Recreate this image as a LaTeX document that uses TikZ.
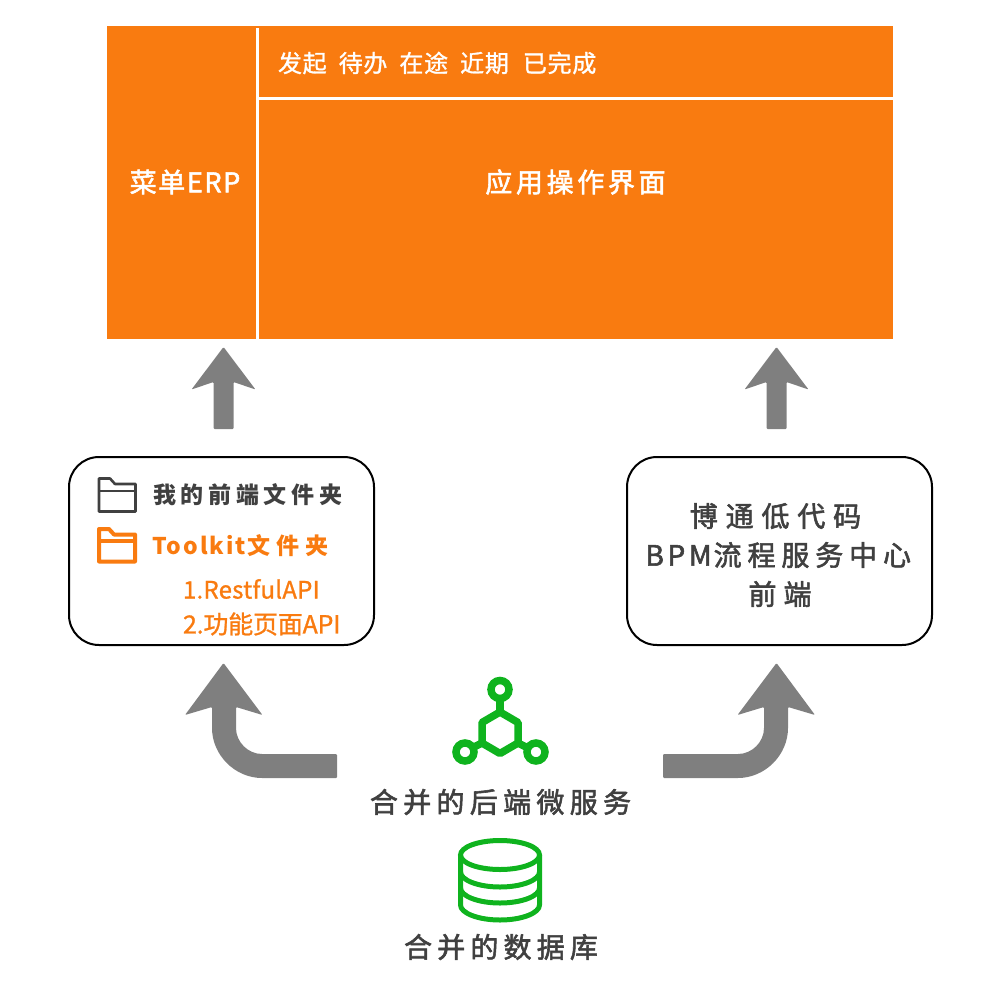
\documentclass[tikz,border=0pt]{standalone}
\usepackage{fontspec}
\setmainfont{Noto Sans CJK SC}
\newcommand{\ftx}[3]{\fontsize{#1}{#1}\selectfont\addfontfeature{LetterSpace=#2,FakeBold=#3}}
\newcommand{\ftb}[2]{\fontsize{#1}{#1}\selectfont\bfseries\addfontfeature{LetterSpace=#2}}
\definecolor{og}{HTML}{F97B10}
\definecolor{gn}{HTML}{0FB31E}
\definecolor{gy}{HTML}{7F7F7F}
\definecolor{dk}{HTML}{404040}
\tikzset{
  x=1pt,y=-1pt,
  lbl/.style={inner sep=0pt,outer sep=0pt,anchor=center},
  lblw/.style={lbl,text=white},
  lbld/.style={lbl,text=dk},
  panel/.style={draw=black,line width=2pt,rounded corners=30pt,fill=white},
  blockarrow/.style={fill=gy,draw=none,rounded corners=1pt},
  hubline/.style={draw=gn,line width=7.5pt},
  dbline/.style={draw=gn,line width=5pt},
  folder/.style={line width=#1,line join=round},
}
\begin{document}
\begin{tikzpicture}
\useasboundingbox (0,0) rectangle (1000,1000);
% top block
\fill[og] (107,26) rectangle (893,339);
\fill[white] (256,28) rectangle (259,339);
\fill[white] (259,97) rectangle (893,100);
\node[lblw,anchor=west] (tabs) at (278,63) {\ftx{24}{3}{1.2}发起\hspace{12pt}待办\hspace{12pt}在途\hspace{12pt}近期\hspace{14pt}已完成};
\node[lblw] (menu) at (185,182) {\ftx{27}{6}{2}菜单ERP};
\node[lblw] (app) at (575.5,182) {\ftx{27}{13.5}{2}应用操作界面};
% straight arrows
\foreach \cx/\nm in {223.5/a,776.5/b}{
  \fill[blockarrow] (\cx,347) -- (\cx+32,389.5) -- (\cx+10,382) -- (\cx+10,429)
    -- (\cx-10,429) -- (\cx-10,382) -- (\cx-32,389.5) -- cycle;
}
% panels
\draw[panel] (69,457) rectangle (374,645);
\draw[panel] (627,457) rectangle (932,645);
% folder icons
\draw[dk,folder=2.6pt] (99,478.5) -- (110,478.5) -- (115,484) -- (135.5,484) -- (135.5,511.5) -- (99,511.5) -- cycle;
\draw[dk,line width=2.6pt] (99,491) -- (135.5,491);
\draw[og,folder=4pt] (99,529) -- (109,529) -- (114,534.5) -- (135,534.5) -- (135,561.5) -- (99,561.5) -- cycle;
\draw[og,line width=3.5pt] (99,541) -- (135,541);
\node[lbl,text=dk,anchor=west] (mine) at (153,495) {\ftb{23}{20.5}我的前端文件夹};
\node[lbl,text=og,anchor=west] (tk) at (152,546) {{\ftb{23}{9}Toolkit}\hspace{1pt}{\ftb{23}{27}文件夹}};
\node[lbl,text=og,anchor=west] (r1) at (183,589) {\ftx{24}{1}{1}1.RestfulAPI};
\node[lbl,text=og,anchor=west] (r2) at (183,624) {\ftx{25}{-0.8}{1}2.功能页面API};
% right panel text
\node[lbld] (bt1) at (775.5,516) {\ftx{28}{28}{2}博通低代码};
\node[lbld,anchor=west] (bt2) at (645.5,555) {{\ftx{28}{13}{2}BPM}\hspace{2pt}{\ftx{28}{21}{2}流程服务中心}};
\node[lbld] (bt3) at (780,594) {\ftx{28}{25}{2}前端};
% bent arrows
\foreach \s/\o in {1/0,-1/1000}{
  \begin{scope}[xshift=\o pt,xscale=\s]
  \fill[blockarrow] (223.5,663) -- (262.5,715) -- (236,707) -- (236,727)
    .. controls (236,742) and (248,754) .. (263,754) -- (337,754) -- (337,778) -- (263,778)
    .. controls (235,778) and (212,755) .. (212,727) -- (212,707) -- (185,715) -- cycle;
  \end{scope}
}
% hub icon
\draw[hubline,line join=round] (500,712) -- (518,722.5) -- (518,743) -- (500,753.5) -- (482,743) -- (482,722.5) -- cycle;
\draw[hubline] (500,698) -- (500,712);
\draw[hubline] (482,743) -- (472,748);
\draw[hubline] (518,743) -- (528,748);
\draw[hubline] (500,689.5) circle (9);
\draw[hubline] (465,752) circle (9);
\draw[hubline] (536,752) circle (9);
\node[lbld] (svc) at (500.5,802) {\ftx{28}{19}{2}合并的后端微服务};
% database icon
\draw[dbline] (500,855) ellipse (39.5 and 14.5);
\draw[dbline,line join=round] (460.5,855) -- (460.5,905)
  .. controls (460.5,913) and (478,920) .. (500,920)
  .. controls (522,920) and (539.5,913) .. (539.5,905) -- (539.5,855);
\draw[dbline] (460.5,872) .. controls (460.5,880) and (478,887) .. (500,887)
  .. controls (522,887) and (539.5,880) .. (539.5,872);
\draw[dbline] (460.5,888) .. controls (460.5,896) and (478,903) .. (500,903)
  .. controls (522,903) and (539.5,896) .. (539.5,888);
\node[lbld] (db) at (501,947) {\ftx{28}{18.5}{2}合并的数据库};
\end{tikzpicture}
\end{document}
